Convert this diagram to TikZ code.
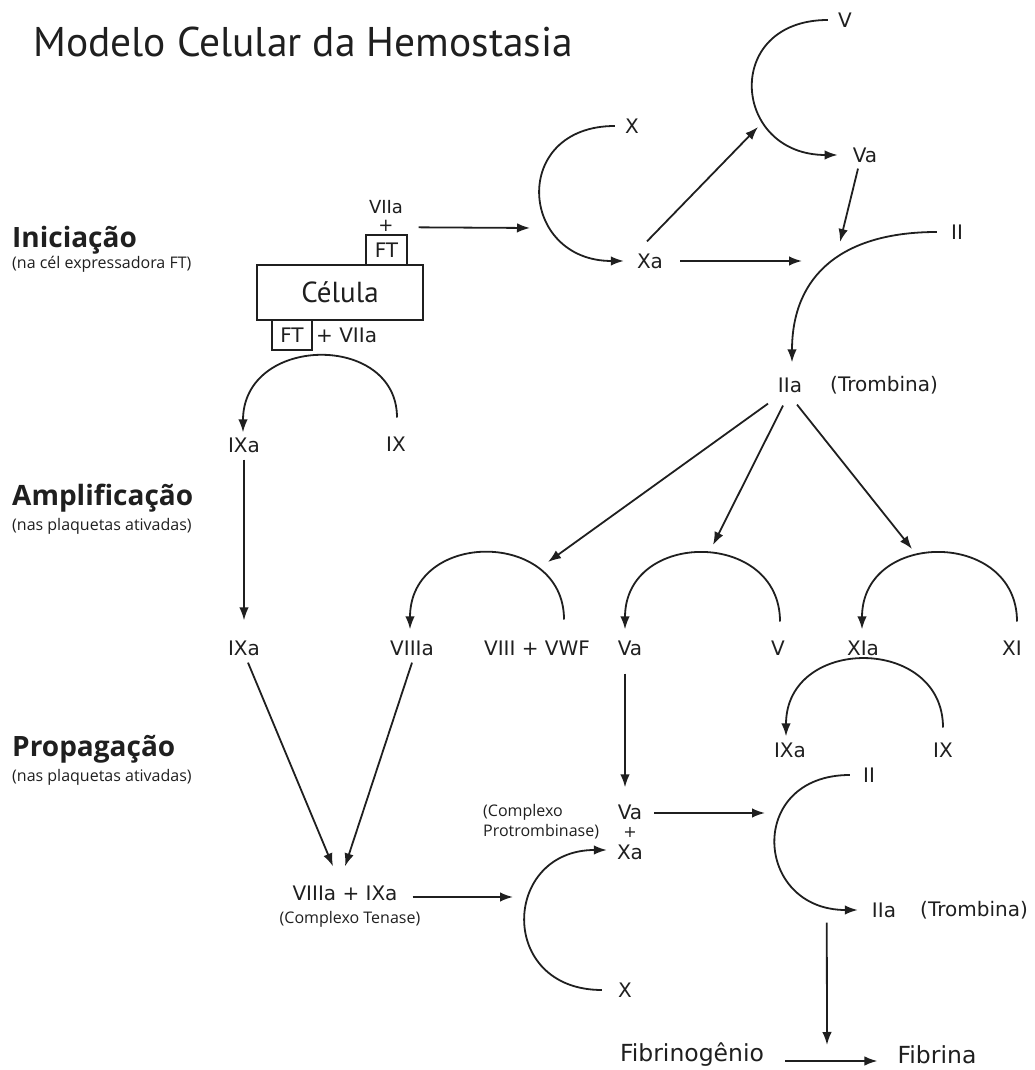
\documentclass[tikz,border=0pt]{standalone}
\usepackage{fontspec}
\setmainfont{DejaVu Sans}
\newfontfamily\titlefont{PT Sans}
\newfontfamily\stagefont{Open Sans}
\usetikzlibrary{arrows.meta}

\begin{document}
\begin{tikzpicture}[x=1pt, y=1pt, color=black!88]
	\tikzstyle{lbl} = [font=\fontsize{20}{22}\selectfont, inner sep=2pt]
	\tikzstyle{big} = [font=\fontsize{23.5}{26}\selectfont, inner sep=2pt]
	\tikzstyle{small} = [font=\stagefont\fontsize{16}{18}\selectfont, inner sep=0pt]
	\tikzstyle{stage} = [font=\stagefont\bfseries\fontsize{28}{30}\selectfont, anchor=base west, inner sep=0pt]
	\tikzstyle{note} = [small, anchor=base west]
	\tikzstyle{rect} = [rectangle, draw, line width=1.3pt]
	\tikzstyle{edge} = [-{Latex[length=13pt, width=9.5pt]}, line width=1.8pt]
	\useasboundingbox (0,0) rectangle (1035,1070);

	\node[font=\titlefont\fontsize{41.5}{44}\selectfont, anchor=base west, inner sep=0pt](title) at (33,1013){Modelo Celular da Hemostasia};
	\node[stage](ini) at (12,822){Iniciação};
	\node[note](inisub) at (12,801){(na cél expressadora FT)};
	\node[stage](amp) at (12,564){Amplificação};
	\node[note](ampsub) at (12,539){(nas plaquetas ativadas)};
	\node[stage](prop) at (12,313){Propagação};
	\node[note](propsub) at (12,288){(nas plaquetas ativadas)};

	\node[rect, minimum width=166, minimum height=55, font=\titlefont\fontsize{29}{30}\selectfont](cel) at (340,777.5){Célula};
	\node[rect, lbl, minimum width=41, minimum height=30](FT1) at (386.5,820){FT};
	\node[lbl, font=\fontsize{18}{20}\selectfont](plus1) at (386,844){+};
	\node[lbl, font=\fontsize{18}{20}\selectfont](VIIa1) at (386,863){VIIa};
	\node[rect, lbl, minimum width=40, minimum height=30](FT2) at (292,735){FT};
	\node[lbl, anchor=west](VIIa2) at (314,735){+ VIIa};

	\node[lbl](X1) at (632,944){X};
	\node[lbl](Xa1) at (650,809){Xa};
	\node[lbl](V1) at (845,1050){V};
	\node[lbl](Va1) at (865,915){Va};
	\node[lbl](II1) at (957,838){II};
	\node[lbl](IIa1) at (790,685){IIa};
	\node[lbl](Tromb1) at (884,685){(Trombina)};
	\node[lbl](IXa1) at (244,625){IXa};
	\node[lbl](IX1) at (396,626){IX};

	\node[lbl](IXa2) at (244,422){IXa};
	\node[lbl](VIIIa) at (412,422){VIIIa};
	\node[lbl](VIIIvwf) at (537,422){VIII + VWF};
	\node[lbl](Va2) at (630,422){Va};
	\node[lbl](V2) at (778,422){V};
	\node[lbl](XIa) at (863,422){XIa};
	\node[lbl](XI) at (1012,422){XI};

	\node[lbl](IXa3) at (790,320){IXa};
	\node[lbl](IX3) at (943,320){IX};
	\node[lbl](II2) at (869,295){II};
	\node[lbl](Va3) at (630,258){Va};
	\node[lbl, font=\fontsize{16}{18}\selectfont](plus3) at (630,238){+};
	\node[lbl](Xa3) at (630,218){Xa};
	\node[small, anchor=west](cpx1) at (483,258){(Complexo};
	\node[small, anchor=west](cpx2) at (483,238){Protrombinase)};
	\node[lbl](ten) at (345,177){VIIIa + IXa};
	\node[small](tensub) at (350,151){(Complexo Tenase)};
	\node[lbl](IIa2) at (884,160){IIa};
	\node[lbl](Tromb2) at (974,160){(Trombina)};
	\node[lbl](X3) at (625,80){X};
	\node[big](fbg) at (692,15){Fibrinogênio};
	\node[big](fbn) at (937,15){Fibrina};

	\coordinate (Xin) at (530,842);
	\coordinate (Vin) at (758,943);
	\coordinate (xaII) at (802,809);
	\coordinate (vaII) at (840,828);
	\coordinate (toVIII) at (548,508);
	\coordinate (toV) at (713,525);
	\coordinate (toXI) at (912,521);
	\coordinate (tenX) at (513,173);
	\coordinate (vaII2) at (765,257);
	\coordinate (fibin) at (827,25);

	\draw[edge] ([shift={(11,7)}]FT1.north east) -- (Xin);
	\draw[edge] ([xshift=-8]X1.west) .. controls +(-105,0) and +(-105,0) .. ([xshift=-11]Xa1.west);
	\draw[edge] ([shift={(-3,10)}]Xa1.north) -- (Vin);
	\draw[edge] ([xshift=15]Xa1.east) -- (xaII);
	\draw[edge] ([xshift=-8]V1.west) .. controls +(-106,0) and +(-106,0) .. ([xshift=-13]Va1.west);
	\draw[edge] ([shift={(-7,-4)}]Va1.south) -- (vaII);
	\draw[edge] ([xshift=-12]II1.west) .. controls +(-95,0) and +(0,87) .. ([shift={(2,13)}]IIa1.north);
	\draw[edge] ([shift={(-22,-9)}]IIa1.south) -- (toVIII);
	\draw[edge] ([shift={(-7,-11)}]IIa1.south) -- (toV);
	\draw[edge] ([shift={(7,-10)}]IIa1.south) -- (toXI);

	\draw[edge] ([shift={(1,17)}]IX1.north) .. controls +(0,85) and +(0,98) .. ([shift={(-1,3)}]IXa1.north);
	\draw[edge] ([yshift=-5]IXa1.south) -- ([yshift=18]IXa2.north);
	\draw[edge] ([shift={(27,19)}]VIIIvwf.north) .. controls +(0,90) and +(0,100) .. ([shift={(-2,9)}]VIIIa.north);
	\draw[edge] ([shift={(2,17)}]V2.north) .. controls +(0,92) and +(0,100) .. ([shift={(-5,9)}]Va2.north);
	\draw[edge] ([shift={(5,17)}]XI.north) .. controls +(0,92) and +(0,100) .. ([shift={(-1,9)}]XIa.north);

	\draw[edge] ([shift={(4,-5)}]IXa2.south) -- ([shift={(-12,17)}]ten.north);
	\draw[edge] ([yshift=-5]VIIIa.south) -- ([yshift=17]ten.north);
	\draw[edge] ([shift={(13,-4)}]ten.east) -- (tenX);
	\draw[edge] ([shift={(-5,-16)}]Va2.south) -- ([shift={(-5,15)}]Va3.north);
	\draw[edge] ([xshift=-14]X3.west) .. controls +(-105,0) and +(-105,0) .. ([shift={(-8,2)}]Xa3.west);
	\draw[edge] ([shift={(10,-1)}]Va3.east) -- (vaII2);
	\draw[edge] ([yshift=13]IX3.north) .. controls +(0,92) and +(0,101) .. ([shift={(-4,4)}]IXa3.north);
	\draw[edge] ([xshift=-11]II2.west) .. controls +(-104,0) and +(-104,0) .. ([xshift=-12]IIa2.west);
	\draw[edge] ([shift={(-43,-3)}]IIa2.south west) -- (fibin);
	\draw[edge] ([shift={(19,-6)}]fbg.east) -- ([shift={(-18,-6)}]fbn.west);
\end{tikzpicture}
\end{document}
